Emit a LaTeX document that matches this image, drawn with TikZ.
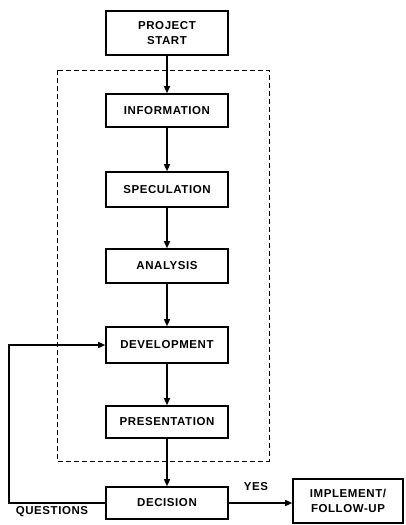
\documentclass[tikz,border=0pt]{standalone}
\usepackage{fontspec}
\newfontfamily\labfont[LetterSpace=5,BoldFont={Liberation Sans Bold}]{Liberation Sans}
\usetikzlibrary{arrows.meta}
\begin{document}
\begin{tikzpicture}[x=1pt,y=-1pt,
  box/.style={draw,line width=1.6pt,minimum width=122pt,inner sep=0pt,font=\labfont\bfseries\fontsize{11.5}{15}\selectfont,align=center},
  arr/.style={line width=1.4pt,-{Triangle[length=7pt,width=6pt]}},
  lbl/.style={font=\labfont\bfseries\fontsize{11.5}{15}\selectfont,inner sep=0pt}]
\useasboundingbox (0,0) rectangle (405,525);
\draw[dashed,line width=0.8pt,dash pattern=on 5pt off 3pt] (57,70) rectangle (269,461);
\node[box,minimum height=44pt] (start) at (167,33) {PROJECT\\START};
\node[box,minimum height=33pt] (info) at (167,110.5) {INFORMATION};
\node[box,minimum height=35pt] (spec) at (167,189.5) {SPECULATION};
\node[box,minimum height=34pt] (anal) at (167,266) {ANALYSIS};
\node[box,minimum height=36pt] (dev) at (167,345) {DEVELOPMENT};
\node[box,minimum height=32pt] (pres) at (167,422) {PRESENTATION};
\node[box,minimum height=32pt] (dec) at (167,503) {DECISION};
\node[box,minimum height=44pt,minimum width=110pt] (impl) at (348,501) {IMPLEMENT/\\FOLLOW-UP};
\node[lbl] (yes) at (256,487) {YES};
\node[lbl] (q) at (52,512) {QUESTIONS};
\coordinate (fb) at (9,503);
\draw[arr] (start) -- (info);
\draw[arr] (info) -- (spec);
\draw[arr] (spec) -- (anal);
\draw[arr] (anal) -- (dev);
\draw[arr] (dev) -- (pres);
\draw[arr] (pres) -- (dec);
\draw[arr] (dec.east) -- (dec.east -| impl.west);
\draw[arr] (dec.west) -- (fb) |- (dev.west);
\end{tikzpicture}
\end{document}
